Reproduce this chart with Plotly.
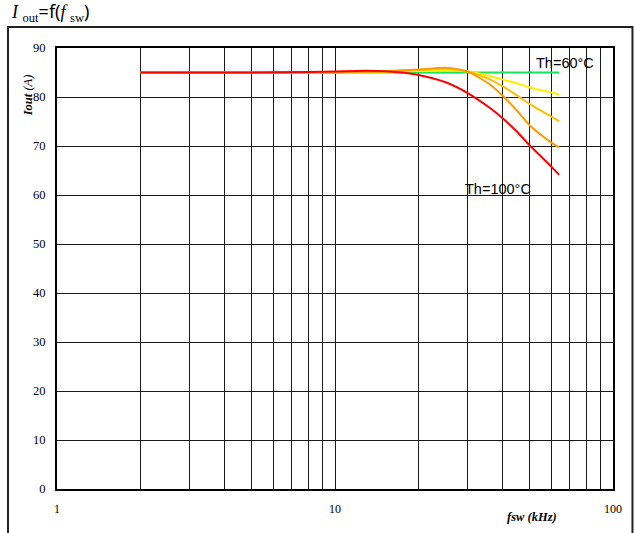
import plotly.graph_objects as go

# Switching frequency (kHz) sample points shared by all curves
freq_khz = [2, 5, 8, 10, 13, 17, 20, 25, 30, 36, 40, 45, 50, 55, 60, 64]

# Output current (A) per heatsink temperature
iout_th60 = [85.0, 85.0, 85.0, 85.0, 85.0, 85.0, 85.0, 85.0, 85.0, 85.0, 85.0, 85.0, 85.0, 85.0, 85.0, 85.0]
iout_th70 = [85.0, 85.0, 85.0, 85.05, 85.1, 85.2, 85.3, 85.5, 85.2, 84.3, 83.6, 82.8, 82.0, 81.4, 80.9, 80.5]
iout_th80 = [85.0, 85.0, 85.0, 85.05, 85.15, 85.35, 85.5, 85.8, 85.2, 83.6, 82.2, 80.4, 78.6, 77.2, 76.0, 75.1]
iout_th90 = [85.0, 85.0, 85.0, 85.05, 85.15, 85.4, 85.6, 85.95, 85.2, 82.6, 80.3, 77.3, 74.3, 72.3, 70.7, 69.7]
iout_th100 = [85.0, 85.0, 85.1, 85.2, 85.35, 85.05, 84.5, 83.0, 80.8, 77.8, 75.7, 73.0, 70.2, 67.9, 65.8, 64.1]

series = [
    ("Th=60°C", iout_th60, "#12E858"),
    ("Th=70°C", iout_th70, "#FFF000"),
    ("Th=80°C", iout_th80, "#FFC000"),
    ("Th=90°C", iout_th90, "#FF9A00"),
    ("Th=100°C", iout_th100, "#FF0000"),
]

# Log-axis labels (decades) and intermediate gridlines
x_ticks = [1, 10, 100]
x_minor = [2, 3, 4, 5, 6, 7, 8, 9, 20, 30, 40, 50, 60, 70, 80, 90]
y_ticks = [0, 10, 20, 30, 40, 50, 60, 70, 80, 90]

fig = go.Figure()
for name, vals, color in series:
    fig.add_trace(go.Scatter(
        x=freq_khz, y=vals, mode="lines", name=name,
        line=dict(color=color, width=2, shape="spline", smoothing=0.6),
        showlegend=False,
    ))

serif = "Liberation Serif"
grid_col = "#1a1a1a"

fig.update_layout(
    width=634, height=533,
    margin=dict(l=57, r=21, t=48, b=44),
    paper_bgcolor="white", plot_bgcolor="white",
    xaxis=dict(
        type="log", range=[0, 2],
        tickmode="array", tickvals=x_ticks, ticktext=[str(v) for v in x_ticks],
        showgrid=True, gridcolor=grid_col, gridwidth=1,
        minor=dict(tickmode="array", tickvals=x_minor, showgrid=True,
                   gridcolor=grid_col, gridwidth=1, ticks=""),
        showline=True, linecolor="black", linewidth=2, mirror=True,
        ticks="", zeroline=False, ticklabelstandoff=8,
        tickfont=dict(family=serif, size=12, color="black"),
    ),
    yaxis=dict(
        range=[0, 90], tickmode="array", tickvals=y_ticks,
        showgrid=True, gridcolor=grid_col, gridwidth=1,
        showline=True, linecolor="black", linewidth=2, mirror=True,
        ticks="", zeroline=False, ticklabelstandoff=7,
        tickfont=dict(family=serif, size=12.5, color="black"),
    ),
)

# Outer frame around the whole chart area
fig.add_shape(type="rect", xref="paper", yref="paper",
              x0=-0.0881, x1=1.035, y0=-0.14, y1=1.0476,
              line=dict(color="#222222", width=2), fillcolor="rgba(0,0,0,0)", layer="below")

# Chart title, sitting just above the outer frame
fig.add_annotation(
    xref="paper", yref="paper", x=-0.0845, y=1.051, xanchor="left", yanchor="bottom",
    text=("<span style='font-family:Liberation Serif'><i>I</i> <sub>out</sub></span>"
          "=f(<span style='font-family:Liberation Serif'><i>f</i> <sub>sw</sub></span>)"),
    showarrow=False, font=dict(family="Noto Sans", size=18, color="black"),
    borderpad=0,
)

# Axis titles
fig.add_annotation(
    xref="paper", yref="paper", x=-0.052, y=0.893, xanchor="center", yanchor="middle",
    textangle=-90, text="<b><i>Iout</i></b><i> (A)</i>", showarrow=False,
    font=dict(family=serif, size=12.5, color="black"),
)
fig.add_annotation(
    xref="paper", yref="paper", x=0.854, y=-0.064, xanchor="center", yanchor="middle",
    text="<b><i>fsw (kHz)</i></b>", showarrow=False,
    font=dict(family=serif, size=12.5, color="black"),
)

# Curve labels
fig.add_annotation(x=1.826, y=87.0, text="Th=60°C", showarrow=False,
                   font=dict(family="Liberation Sans", size=14.5, color="black"))
fig.add_annotation(x=1.586, y=61.3, text="Th=100°C", showarrow=False,
                   font=dict(family="Liberation Sans", size=14.5, color="black"))

fig.write_html("out.html")
